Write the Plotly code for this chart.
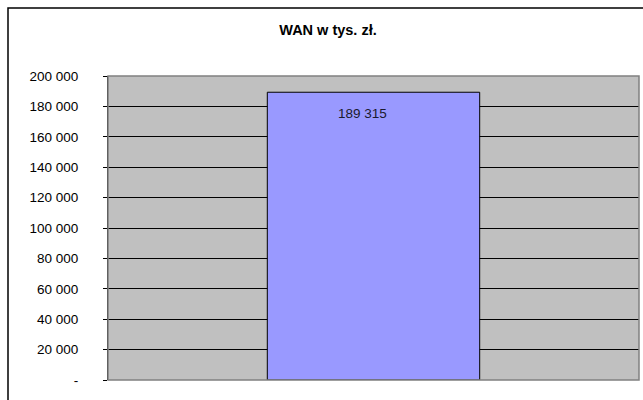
import plotly.graph_objects as go

categories = ["WAN"]
values = [189315]
value_labels = ["189 315"]
tick_values = [0, 20000, 40000, 60000, 80000, 100000, 120000, 140000, 160000, 180000, 200000]
tick_labels = ["-", "20 000", "40 000", "60 000", "80 000", "100 000", "120 000",
               "140 000", "160 000", "180 000", "200 000"]
title_text = "WAN w tys. zł."

W, H = 643, 400
ml, mr, mt, mb = 108, 4, 76, 20
pw, ph = W - ml - mr, H - mt - mb
FONT = "Liberation Sans, Arial"

fig = go.Figure()
fig.add_trace(go.Bar(
    x=categories, y=values,
    marker=dict(color="#9999FF", line=dict(color="#000000", width=1)),
    width=0.4, hoverinfo="skip",
))
for c, v, t in zip(categories, values, value_labels):
    fig.add_annotation(x=c, y=v, text=t, showarrow=False, xshift=-11, yshift=-21,
                       yanchor="middle", font=dict(family=FONT, size=13.5, color="#1a1a2e"))

# plot area border (gray)
fig.add_shape(type="rect", xref="paper", yref="paper", x0=0, x1=1, y0=0, y1=1,
              line=dict(color="#808080", width=1.5), layer="above")
# outer chart border
fig.add_shape(type="rect", xref="paper", yref="paper",
              x0=(8 - ml) / pw, x1=(W + 10 - ml) / pw,
              y0=-(H + 10 - mt - ph) / ph, y1=(H - 8 - mb) / ph,
              line=dict(color="#000000", width=1.5), layer="above")

fig.update_layout(
    width=W, height=H,
    margin=dict(l=ml, r=mr, t=mt, b=mb),
    paper_bgcolor="#FFFFFF", plot_bgcolor="#C0C0C0",
    font=dict(family=FONT, size=13.5, color="#000000"),
    title=dict(text="<b>" + title_text + "</b>", x=328 / W, xanchor="center",
               y=1 - 30 / H, yanchor="middle", yref="container",
               font=dict(family=FONT, size=14.5, color="#000000")),
    showlegend=False,
    xaxis=dict(showticklabels=False, showgrid=False, zeroline=False, showline=False,
               ticks="", fixedrange=True),
    yaxis=dict(range=[0, 200000], tickvals=tick_values, ticktext=tick_labels,
               showgrid=True, gridcolor="#000000", gridwidth=1, zeroline=False,
               showline=True, linecolor="#000000", linewidth=1,
               ticks="outside", ticklen=4, tickcolor="#000000",
               ticklabelstandoff=22, fixedrange=True,
               tickfont=dict(family=FONT, size=13.5, color="#000000")),
)

fig.write_html("out.html", config={"displayModeBar": False},
               post_script="document.body.style.margin='0';document.body.style.overflow='hidden';")
